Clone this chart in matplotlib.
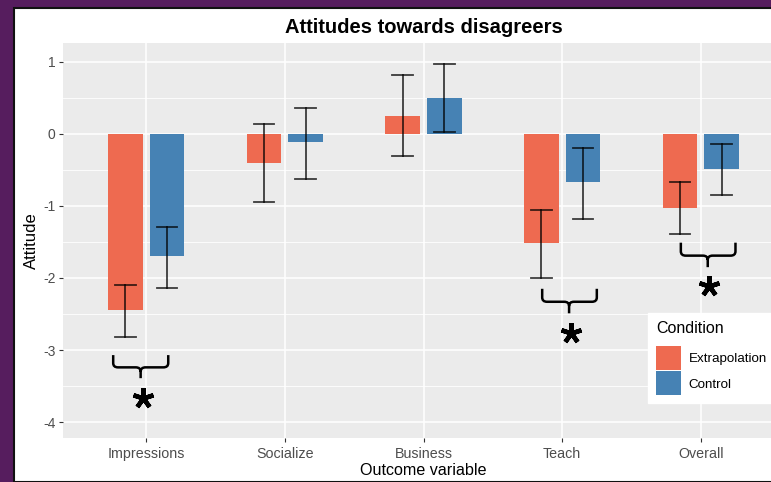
import matplotlib.pyplot as plt
import numpy as np
from matplotlib.path import Path
from matplotlib.patches import PathPatch, Rectangle, Patch

plt.rcParams['font.family'] = ['Liberation Sans', 'DejaVu Sans']
plt.rcParams['axes.unicode_minus'] = False

categories = ["Impressions", "Socialize", "Business", "Teach", "Overall"]
extrap_mean = [-2.44, -0.40, 0.25, -1.51, -1.03]
extrap_lo = [-2.82, -0.94, -0.31, -2.00, -1.39]
extrap_hi = [-2.10, 0.14, 0.81, -1.06, -0.67]
control_mean = [-1.70, -0.11, 0.50, -0.67, -0.49]
control_lo = [-2.14, -0.62, 0.03, -1.18, -0.85]
control_hi = [-1.29, 0.36, 0.97, -0.19, -0.14]

c_extrap = "#EE6A50"
c_control = "#4682B4"

fig = plt.figure(figsize=(7.71, 4.82), dpi=100)
fig.patch.set_facecolor("#561D5E")
# white card with dark edge
fig.patches.append(Rectangle((14 / 771, 0), 1.0, 1 - 8 / 482, transform=fig.transFigure,
                             facecolor="white", edgecolor="#111111", lw=1.5, zorder=-5))

ax = fig.add_axes([63 / 771, 44 / 482, 721 / 771, 395 / 482])
ax.set_facecolor("#EBEBEB")
for s in ax.spines.values():
    s.set_visible(False)

x = np.arange(1, len(categories) + 1)
w = 0.25
off = 0.15
ax.bar(x - off, extrap_mean, width=w, color=c_extrap, zorder=2, label="Extrapolation")
ax.bar(x + off, control_mean, width=w, color=c_control, zorder=2, label="Control")

for xs, lo, hi in [(x - off, extrap_lo, extrap_hi), (x + off, control_lo, control_hi)]:
    for xi, l, h in zip(xs, lo, hi):
        ax.plot([xi, xi], [l, h], color="black", alpha=0.75, lw=1.3, zorder=3)
        ax.plot([xi - 0.075, xi + 0.075], [l, l], color="black", alpha=0.75, lw=1.3, zorder=3)
        ax.plot([xi - 0.075, xi + 0.075], [h, h], color="black", alpha=0.75, lw=1.3, zorder=3)

ax.set_xlim(0.4, 5.6)
ax.set_ylim(-4.22, 1.26)
ax.set_xticks(x)
ax.set_xticklabels(categories)
ax.set_yticks([-4, -3, -2, -1, 0, 1])
ax.set_yticks(np.arange(-3.5, 1.0, 1.0), minor=True)
ax.grid(which="major", color="white", lw=1.1, zorder=0)
ax.grid(which="minor", axis="y", color="white", lw=0.6, zorder=0)
ax.set_axisbelow(True)
ax.tick_params(which="major", colors="#333333", labelcolor="#4D4D4D", length=2.75, width=0.8, pad=2.5)
ax.tick_params(axis="x", labelsize=10.3, pad=4)
ax.tick_params(axis="y", labelsize=10)
ax.tick_params(which="minor", length=0)

ax.set_xlabel("Outcome variable", fontsize=11.6, labelpad=1.5)
ax.set_ylabel("Attitude", fontsize=12, labelpad=3)
ax.set_title("Attitudes towards disagreers", fontsize=14.5, fontweight="bold", pad=7)


def brace(x0, x1, xc, ytop, yh, ytip):
    rx, ry = 0.035, 0.06
    verts = [(x0, ytop), (x0, yh + ry), (x0, yh), (x0 + rx, yh), (xc - rx, yh), (xc, yh), (xc, yh - ry),
             (xc, ytip),
             (xc, yh - ry), (xc, yh), (xc + rx, yh), (x1 - rx, yh), (x1, yh), (x1, yh + ry), (x1, ytop)]
    codes = [Path.MOVETO, Path.LINETO, Path.CURVE3, Path.CURVE3, Path.LINETO, Path.CURVE3, Path.CURVE3,
             Path.LINETO,
             Path.MOVETO, Path.CURVE3, Path.CURVE3, Path.LINETO, Path.CURVE3, Path.CURVE3, Path.LINETO]
    ax.add_patch(PathPatch(Path(verts, codes), facecolor="none", edgecolor="black", lw=1.8, zorder=4))


brace(0.762, 1.159, 0.96, -3.07, -3.24, -3.39)
brace(3.856, 4.25, 4.05, -2.15, -2.33, -2.49)
brace(4.856, 5.25, 5.05, -1.51, -1.69, -1.85)
for sx, sy in [(0.98, -3.66), (4.065, -2.76), (5.06, -2.11)]:
    ax.plot(sx, sy, marker=(5, 2, 0), markersize=15, markeredgewidth=3.2, color="black", zorder=5)

handles = [Patch(facecolor=c_extrap, edgecolor="none"), Patch(facecolor=c_control, edgecolor="none")]
leg = fig.legend(handles, ["Extrapolation", "Control"], title="Condition", loc="upper left",
                 bbox_to_anchor=(648 / 771, 1 - 313 / 482), fontsize=9.6, title_fontsize=11.5,
                 frameon=True, fancybox=False, borderpad=0.6, handlelength=1.85, handleheight=2.4,
                 labelspacing=0.12, handletextpad=0.6, borderaxespad=0, framealpha=1)
leg._legend_box.align = "left"
leg._legend_box.sep = 7
leg.get_frame().set_facecolor("white")
leg.get_frame().set_edgecolor("white")

fig.savefig("out.png", dpi=100, facecolor=fig.get_facecolor())
